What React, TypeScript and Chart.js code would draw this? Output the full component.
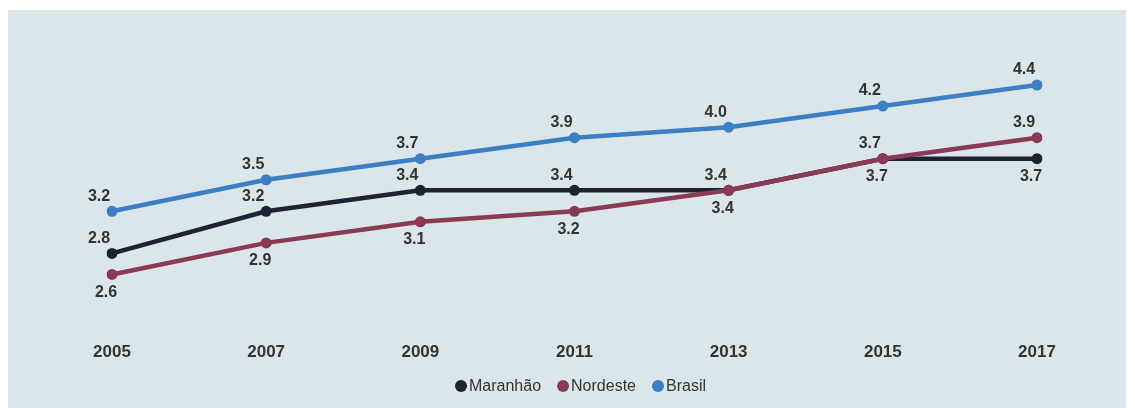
import React, { useEffect, useRef } from "react";
import { Chart, registerables } from "chart.js";

Chart.register(...registerables);

const years = ["2005", "2007", "2009", "2011", "2013", "2015", "2017"];
const maranhao = [2.8, 3.2, 3.4, 3.4, 3.4, 3.7, 3.7];
const nordeste = [2.6, 2.9, 3.1, 3.2, 3.4, 3.7, 3.9];
const brasil = [3.2, 3.5, 3.7, 3.9, 4.0, 4.2, 4.4];

const maranhaoLabelPos = ["above", "above", "above", "above", "above", "above", "below"];
const nordesteLabelPos = ["below", "below", "below", "below", "below", "below", "above"];
const brasilLabelPos = ["above", "above", "above", "above", "above", "above", "above"];

const seriesNames = ["Maranhão", "Nordeste", "Brasil"];
const seriesColors = ["#1c2333", "#8a3a58", "#3c7fc4"];

const TEXT = "#2f3535";
const FONT = "'Liberation Sans', Arial, sans-serif";

const labelsPlugin = {
  id: "valueLabels",
  afterDatasetsDraw(chart: any) {
    const ctx = chart.ctx;
    ctx.save();
    ctx.font = `bold 16px ${FONT}`;
    ctx.fillStyle = TEXT;
    ctx.textAlign = "center";
    ctx.textBaseline = "middle";
    chart.data.datasets.forEach((ds: any, di: number) => {
      const meta = chart.getDatasetMeta(di);
      meta.data.forEach((pt: any, i: number) => {
        const pos = ds.labelPos[i];
        const dx = pos === "above" ? -13 : -6;
        const dy = pos === "above" ? -15 : 18;
        ctx.fillText(ds.data[i].toFixed(1), pt.x + dx, pt.y + dy);
      });
    });
    ctx.restore();
  },
};

const legendPlugin = {
  id: "customLegend",
  afterDraw(chart: any) {
    const ctx = chart.ctx;
    ctx.save();
    ctx.font = `16px ${FONT}`;
    ctx.textBaseline = "middle";
    ctx.textAlign = "left";
    const r = 6;
    const gap = 2;
    const spacing = 16;
    const widths = seriesNames.map((n) => 2 * r + gap + ctx.measureText(n).width);
    const total = widths.reduce((a, b) => a + b, 0) + spacing * (seriesNames.length - 1);
    let x = (chart.chartArea.left + chart.chartArea.right) / 2 - total / 2 + 6;
    const y = chart.height - 22;
    seriesNames.forEach((n, i) => {
      ctx.beginPath();
      ctx.fillStyle = seriesColors[i];
      ctx.arc(x + r, y, r, 0, Math.PI * 2);
      ctx.fill();
      ctx.fillStyle = TEXT;
      ctx.fillText(n, x + 2 * r + gap, y + 1);
      x += widths[i] + spacing;
    });
    ctx.restore();
  },
};

export default function App() {
  const ref = useRef<HTMLCanvasElement>(null);
  useEffect(() => {
    if (!ref.current) return;
    const mk = (label: string, data: number[], color: string, labelPos: string[], order: number) => ({
      label,
      data,
      labelPos,
      order,
      borderColor: color,
      backgroundColor: color,
      pointBackgroundColor: color,
      pointBorderColor: color,
      borderWidth: 4.5,
      pointRadius: 5.5,
      pointBorderWidth: 0,
      tension: 0,
    });
    const chart = new Chart(ref.current, {
      type: "line",
      data: {
        labels: years,
        datasets: [
          mk(seriesNames[0], maranhao, seriesColors[0], maranhaoLabelPos, 2),
          mk(seriesNames[1], nordeste, seriesColors[1], nordesteLabelPos, 1),
          mk(seriesNames[2], brasil, seriesColors[2], brasilLabelPos, 0),
        ] as any,
      },
      options: {
        animation: false,
        responsive: false,
        maintainAspectRatio: false,
        layout: { padding: { left: 112, right: 98, top: 64, bottom: 40 } },
        plugins: { legend: { display: false }, tooltip: { enabled: false } },
        scales: {
          x: {
            offset: false,
            grid: { display: false, drawTicks: false },
            border: { display: false },
            ticks: {
              padding: 5,
              color: TEXT,
              font: { family: FONT, size: 17, weight: "bold", lineHeight: 1.2 },
              maxRotation: 0,
            },
          },
          y: {
            display: false,
            min: 2.0,
            max: 4.6,
          },
        },
      },
      plugins: [labelsPlugin, legendPlugin],
    });
    return () => chart.destroy();
  }, []);

  return (
    <div style={{ position: "fixed", left: 0, top: 0, width: 1135, height: 408, background: "#ffffff" }}>
      <div
        style={{
          position: "absolute",
          left: 8,
          top: 10,
          width: 1118,
          height: 398,
          background: "#dae6e9",
        }}
      />
      <canvas ref={ref} width={1135} height={408} style={{ position: "absolute", left: 0, top: 0 }} />
    </div>
  );
}
